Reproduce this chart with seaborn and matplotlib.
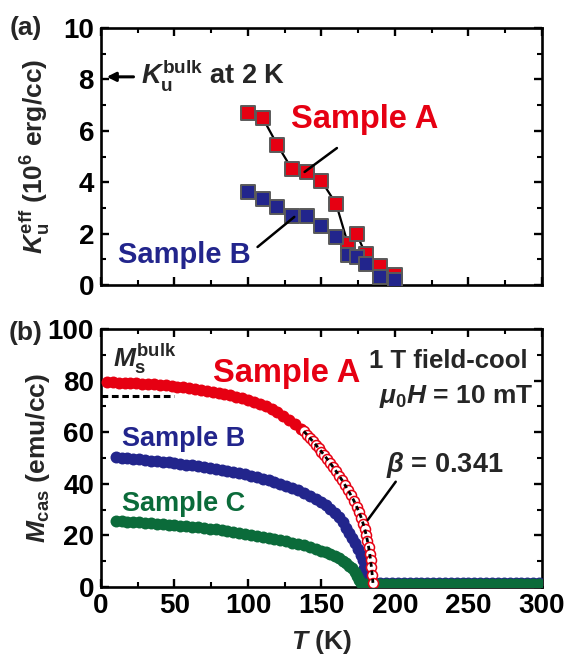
import matplotlib
matplotlib.use("Agg")
import matplotlib.pyplot as plt
from matplotlib.ticker import MultipleLocator
import pandas as pd
import seaborn as sns

# ---------------- (a) effective uniaxial anisotropy ----------------
T_ani = [100, 110, 120, 130, 140, 150, 160, 168, 174, 180, 190, 200]
Ku_A = [6.7, 6.5, 5.45, 4.5, 4.4, 4.05, 3.15, 1.6, 1.98, 1.2, 0.75, 0.4]
Ku_B = [3.62, 3.33, 3.03, 2.68, 2.68, 2.3, 1.88, 1.18, 1.1, 0.82, 0.33, 0.2]
Ku_bulk = 8.1          # bulk value at 2 K
T_bulk = 2

# ---------------- (b) magnetization vs temperature ----------------
# Sample A, filled symbols
T_A = [4, 8, 12, 16, 20, 24, 28, 32, 36, 40, 44, 48, 52, 56, 60, 64, 68, 72,
       76, 80, 84, 88, 92, 96, 100, 104, 108, 112, 116, 120, 124, 128, 132, 136]
M_A = [79.3, 79.3, 79.2, 79.1, 79.0, 78.9, 78.8, 78.7, 78.5, 78.3, 78.1, 77.9,
       77.7, 77.4, 77.1, 76.8, 76.5, 76.1, 75.7, 75.3, 74.8, 74.3, 73.8, 73.2,
       72.5, 71.8, 71.0, 70.1, 68.9, 67.7, 66.3, 64.7, 63.0, 61.2]
# Sample A, critical region (open symbols, power-law fit beta = 0.341)
T_A_crit = [138, 140, 142, 144, 146, 148, 150, 152, 154, 156, 158, 160, 162,
            164, 166, 168, 170, 172, 174, 175.5, 177, 178.3, 179.4, 180.4,
            181.3, 182.1, 182.8, 183.4, 184.0, 184.5, 185.0]
M_A_crit = [60.3, 59.1, 57.8, 56.5, 55.2, 53.8, 52.4, 51.0, 49.5, 48.0, 46.4,
            44.8, 43.1, 41.4, 39.5, 37.6, 35.6, 33.5, 31.0, 29.1, 26.9, 24.6,
            22.4, 20.2, 17.8, 15.4, 12.9, 10.3, 7.6, 4.8, 1.6]

T_B = [10, 14, 18, 22, 26, 30, 34, 38, 42, 46, 50, 54, 58, 62, 66, 70, 74, 78,
       82, 86, 90, 94, 98, 102, 106, 110, 114, 118, 122, 126, 130, 134, 138,
       142, 146, 150, 153, 156, 159, 162, 164.5, 167, 169, 171, 173, 175,
       176.8, 178, 179, 179.8, 180.5, 182, 184]
M_B = [50.3, 50.1, 49.9, 49.7, 49.5, 49.3, 49.0, 48.8, 48.5, 48.3, 48.0, 47.7,
       47.4, 47.1, 46.8, 46.5, 46.1, 45.8, 45.4, 45.0, 44.6, 44.1, 43.6, 43.1,
       42.5, 41.9, 41.3, 40.6, 39.9, 39.1, 38.3, 37.4, 36.4, 35.3, 34.1, 32.8,
       31.7, 30.4, 28.8, 27.0, 25.0, 22.9, 21.0, 19.0, 16.9, 14.7, 12.4, 10.3,
       7.2, 4.0, 1.8, 1.4, 1.4]

T_C = [10, 14, 18, 22, 26, 30, 34, 38, 42, 46, 50, 54, 58, 62, 66, 70, 74, 78,
       82, 86, 90, 94, 98, 102, 106, 110, 114, 118, 122, 126, 130, 134, 138,
       142, 146, 150, 153, 156, 159, 162, 164.5, 167, 169, 171, 173, 174.5,
       175.8, 177, 178.5, 180, 182, 184]
M_C = [25.5, 25.4, 25.3, 25.2, 25.1, 24.9, 24.8, 24.6, 24.4, 24.2, 24.0, 23.8,
       23.6, 23.3, 23.1, 22.8, 22.6, 22.3, 22.0, 21.7, 21.4, 21.0, 20.7, 20.3,
       19.9, 19.5, 19.1, 18.6, 18.2, 17.7, 17.2, 16.7, 16.1, 15.5, 14.8, 14.1,
       13.5, 12.8, 12.0, 11.1, 10.2, 9.2, 8.3, 7.3, 6.0, 4.3, 2.6, 1.5, 1.2,
       1.2, 1.2, 1.2]

# paramagnetic region above Tc
T_para = [186, 190, 194, 198, 202, 206, 210, 214, 218, 222, 226, 230, 234, 238,
          242, 246, 250, 254, 258, 262, 266, 270, 274, 278, 282, 286, 290, 294, 298]
M_para_A = [1.0, 1.0, 1.0, 0.9, 1.0, 1.0, 0.9, 1.0, 1.0, 1.0, 0.9, 1.0, 1.0, 1.0,
            0.9, 1.0, 1.0, 1.0, 0.9, 1.0, 1.0, 1.0, 0.9, 1.0, 1.0, 1.0, 0.9, 1.0, 1.0]
M_para_B = [1.5, 1.5, 1.6, 1.5, 1.5, 1.5, 1.6, 1.5, 1.5, 1.5, 1.6, 1.5, 1.5, 1.5,
            1.6, 1.5, 1.5, 1.5, 1.6, 1.5, 1.5, 1.5, 1.6, 1.5, 1.5, 1.5, 1.6, 1.5, 1.5]
M_para_C = [1.2, 1.2, 1.2, 1.1, 1.2, 1.2, 1.2, 1.1, 1.2, 1.2, 1.2, 1.1, 1.2, 1.2,
            1.2, 1.1, 1.2, 1.2, 1.2, 1.1, 1.2, 1.2, 1.2, 1.1, 1.2, 1.2, 1.2, 1.1, 1.2]

Ms_bulk = 74.0
T_Ms_line = [0, 50]

RED = "#E60012"
BLUE = "#22258C"
GREEN = "#0B6B3A"

sns.set_theme(style="ticks")
plt.rcParams.update({
    "font.family": ["Liberation Sans", "DejaVu Sans"],
    "font.weight": "bold",
    "axes.labelweight": "bold",
    "mathtext.fontset": "custom",
    "mathtext.rm": "Liberation Sans:bold",
    "mathtext.it": "Liberation Sans:italic:bold",
    "mathtext.bf": "Liberation Sans:bold",
    "axes.linewidth": 1.9,
    "axes.edgecolor": "black",
    "xtick.direction": "in", "ytick.direction": "in",
    "xtick.top": True, "ytick.right": True,
    "xtick.major.size": 5.5, "ytick.major.size": 5.5,
    "xtick.minor.size": 3.5, "ytick.minor.size": 3.5,
    "xtick.major.width": 1.7, "ytick.major.width": 1.7,
    "xtick.minor.width": 1.5, "ytick.minor.width": 1.5,
    "xtick.color": "black", "ytick.color": "black",
    "xtick.labelsize": 20, "ytick.labelsize": 20,
    "xtick.major.pad": 4, "ytick.major.pad": 5,
    "axes.labelsize": 19,
})

fig = plt.figure(figsize=(5.69, 6.56), dpi=100)
ax1 = fig.add_axes([0.1775, 0.5655, 0.775, 0.3918])
ax2 = fig.add_axes([0.1775, 0.1052, 0.775, 0.3933])

# ---- panel (a)
dfa = pd.DataFrame({"T": T_ani, "A": Ku_A, "B": Ku_B})
for col, c in (("A", RED), ("B", BLUE)):
    sns.lineplot(data=dfa, x="T", y=col, ax=ax1, color="black", lw=1.6,
                 sort=False, zorder=2)
    sns.scatterplot(data=dfa, x="T", y=col, ax=ax1, marker="s", s=110,
                    color=c, edgecolor="#5a5a5a", linewidth=1.4, zorder=3)

ax1.annotate("", xy=(T_bulk, Ku_bulk), xytext=(24, Ku_bulk),
             arrowprops=dict(arrowstyle="-|>", color="black", lw=2.2,
                             mutation_scale=13))
ax1.text(27, 7.85, r"$K_{\rm u}^{\rm bulk}$ at 2 K", fontsize=19.5,
         fontweight="bold", va="baseline")
ax1.text(129, 6.1, "Sample A", color=RED, fontsize=23.5, fontweight="bold",
         va="baseline")
ax1.text(11.5, 0.85, "Sample B", color=BLUE, fontsize=21, fontweight="bold",
         va="baseline")
ax1.plot([160.5, 138.5], [5.33, 4.4], color="black", lw=1.8, zorder=4)
ax1.plot([106.5, 131.5], [1.48, 2.65], color="black", lw=1.8, zorder=4)

ax1.set_xlim(0, 300)
ax1.set_ylim(0, 10)
ax1.xaxis.set_major_locator(MultipleLocator(50))
ax1.xaxis.set_minor_locator(MultipleLocator(25))
ax1.yaxis.set_major_locator(MultipleLocator(2))
ax1.yaxis.set_minor_locator(MultipleLocator(1))
ax1.tick_params(which="both", labelbottom=False)
ax1.set_xlabel("")
ax1.set_ylabel(r"$K_{\rm u}^{\rm eff}$ (10$^{6}$ erg/cc)")
ax1.yaxis.set_label_coords(-0.11, 0.5)

# ---- panel (b)
sz = 74
series = [
    (T_A + T_para, M_A + M_para_A, RED),
    (T_B + T_para, M_B + M_para_B, BLUE),
    (T_C + T_para, M_C + M_para_C, GREEN),
]
for tt, mm, c in series:
    d = pd.DataFrame({"T": tt, "M": mm})
    sns.scatterplot(data=d, x="T", y="M", ax=ax2, color=c, s=sz,
                    linewidth=0, zorder=3)

dcrit = pd.DataFrame({"T": T_A_crit, "M": M_A_crit})
sns.scatterplot(data=dcrit, x="T", y="M", ax=ax2, s=52, facecolor="white",
                edgecolor=RED, linewidth=1.1, zorder=4)
sns.lineplot(data=dcrit, x="T", y="M", ax=ax2, color="black", lw=2.0,
             linestyle=(0, (1.6, 1.4)), zorder=5)

sns.lineplot(x=T_Ms_line, y=[Ms_bulk, Ms_bulk], ax=ax2, color="black", lw=2.2,
             linestyle=(0, (2.2, 1.2)), zorder=2)

ax2.text(8, 85.4, r"$M_{\rm s}^{\rm bulk}$", fontsize=19, va="baseline")
ax2.text(76, 79.5, "Sample A", color=RED, fontsize=23.5, fontweight="bold",
         va="baseline")
ax2.text(14.5, 54.8, "Sample B", color=BLUE, fontsize=19.5, fontweight="bold",
         va="baseline")
ax2.text(14.5, 29.6, "Sample C", color=GREEN, fontsize=19.5, fontweight="bold",
         va="baseline")
ax2.text(290, 84.8, "1 T field-cool", fontsize=18.5, ha="right", va="baseline")
ax2.text(294, 71.2, r"$\mu_0H$ = 10 mT", fontsize=19, ha="right", va="baseline")
ax2.text(194, 44.7, r"$\beta$ = 0.341", fontsize=19.5, va="baseline")
ax2.plot([200.5, 181.5], [40.8, 26.0], color="black", lw=1.8, zorder=6)

ax2.set_xlim(0, 300)
ax2.set_ylim(0, 100)
ax2.xaxis.set_major_locator(MultipleLocator(50))
ax2.xaxis.set_minor_locator(MultipleLocator(25))
ax2.yaxis.set_major_locator(MultipleLocator(20))
ax2.yaxis.set_minor_locator(MultipleLocator(10))
ax2.set_xlabel(r"$T$ (K)")
ax2.set_ylabel(r"$M_{\rm cas}$ (emu/cc)")
ax2.yaxis.set_label_coords(-0.11, 0.5)
ax2.xaxis.set_label_coords(0.5, -0.16)

for ax in (ax1, ax2):
    for lab in ax.get_xticklabels() + ax.get_yticklabels():
        lab.set_fontweight("bold")

fig.text(10 / 569, 1 - 28 / 656, "(a)", fontsize=19, fontweight="bold",
         va="center")
fig.text(9 / 569, 1 - 333 / 656, "(b)", fontsize=19, fontweight="bold",
         va="center")

fig.savefig("out.png", dpi=100)
